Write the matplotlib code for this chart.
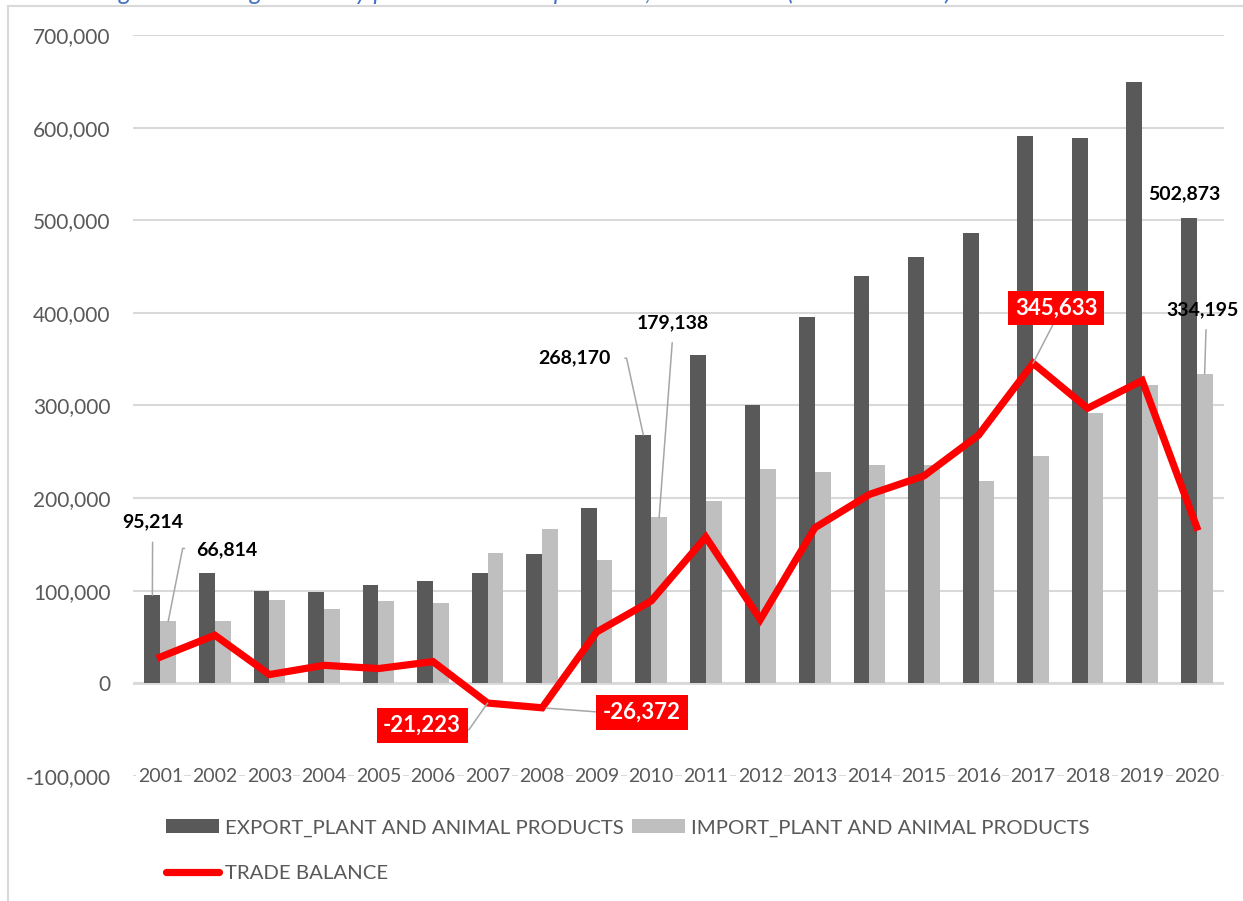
import matplotlib
matplotlib.use("Agg")
import matplotlib.pyplot as plt
from matplotlib.patches import Patch
from matplotlib.lines import Line2D
import numpy as np

plt.rcParams['font.family'] = ['Lato', 'DejaVu Sans']

years = ['2001', '2002', '2003', '2004', '2005', '2006', '2007', '2008', '2009', '2010',
         '2011', '2012', '2013', '2014', '2015', '2016', '2017', '2018', '2019', '2020']
export_vals = [95214, 119000, 99500, 99000, 106000, 110000, 119000, 140000, 189000, 268170,
               355000, 300000, 396000, 440000, 460000, 486000, 591000, 589000, 649000, 502873]
import_vals = [66814, 67000, 90000, 80000, 89000, 87000, 140223, 166372, 133000, 179138,
               197000, 231000, 228000, 236000, 236000, 218000, 245367, 292000, 322000, 334195]
balance_vals = [28400, 52000, 9500, 19500, 16000, 23500, -21223, -26372, 55500, 89032,
                158000, 69000, 168000, 204000, 224000, 268000, 345633, 297000, 327000, 168678]

C_EXP = '#595959'
C_IMP = '#bfbfbf'
C_BAL = '#ff0000'
C_GRID = '#d9d9d9'
C_TXT = '#595959'

W, H = 1243, 901
fig = plt.figure(figsize=(W / 100, H / 100), dpi=100)
ax = fig.add_axes([133 / W, (H - 776) / H, (1224 - 133) / W, (776 - 35) / H])

x = np.arange(len(years))
bw = 0.29
ax.bar(x - bw / 2, export_vals, bw, color=C_EXP, zorder=2)
ax.bar(x + bw / 2, import_vals, bw, color=C_IMP, zorder=2)
ax.plot(x, balance_vals, color=C_BAL, lw=5.2, zorder=4, solid_joinstyle='miter')

ax.set_xlim(-0.5, len(years) - 0.5)
ax.set_ylim(-100000, 700000)
ax.set_yticks(np.arange(-100000, 700001, 100000))
ax.set_yticklabels([f'{v:,.0f}' for v in np.arange(-100000, 700001, 100000)])
ax.tick_params(axis='y', length=0, pad=16, labelsize=15, labelcolor=C_TXT)
ax.set_xticks([])
ax.grid(axis='y', color=C_GRID, lw=1.5, zorder=0)
ax.axhline(0, color=C_GRID, lw=2, zorder=1)
ax.set_axisbelow(True)
for s in ax.spines.values():
    s.set_visible(False)

for i, yr in enumerate(years):
    ax.text(i, -100000, yr, ha='center', va='center', fontsize=14, color=C_TXT,
            bbox=dict(facecolor='white', edgecolor='none', pad=1.0), zorder=5, clip_on=False)

lead = dict(arrowstyle='-', color='#a6a6a6', lw=1.1, shrinkA=2, shrinkB=0)
black_kw = dict(fontsize=14, fontweight='bold', color='black', ha='center', va='center',
                zorder=6, annotation_clip=False)
red_kw = dict(fontsize=16, fontweight='bold', color='white', ha='center', va='center',
              zorder=6, annotation_clip=False,
              bbox=dict(boxstyle='square,pad=0.3', facecolor=C_BAL, edgecolor='none'))

ax.annotate(f'{export_vals[0]:,}', xy=(x[0] - bw / 2, export_vals[0]), xytext=(-0.14, 175000),
            arrowprops=dict(lead, relpos=(0.5, 0), shrinkA=7), **black_kw)
ax.annotate(f'{import_vals[0]:,}', xy=(x[0] + bw / 2, import_vals[0]), xytext=(1.21, 144800),
            arrowprops=dict(lead, relpos=(0, 0.55), shrinkA=6,
                            connectionstyle='arc,angleA=180,armA=13,angleB=90,armB=0'), **black_kw)
ax.annotate(f'{export_vals[9]:,}', xy=(x[9] - bw / 2, export_vals[9]), xytext=(7.60, 352000),
            arrowprops=dict(lead, relpos=(1, 0.45), shrinkA=8,
                            connectionstyle='arc,angleA=0,armA=15.5,angleB=90,armB=0'), **black_kw)
ax.annotate(f'{import_vals[9]:,}', xy=(x[9] + bw / 2, import_vals[9]), xytext=(9.40, 389000),
            arrowprops=dict(lead, relpos=(0.5, 0), shrinkA=6), **black_kw)
ax.annotate(f'{balance_vals[16]:,}', xy=(x[16], balance_vals[16]), xytext=(16.42, 405000),
            arrowprops=dict(lead, relpos=(0.5, 0), shrinkA=0), **red_kw)
ax.annotate(f'{import_vals[19]:,}', xy=(x[19] + bw / 2, import_vals[19]), xytext=(19.11, 403000),
            arrowprops=dict(lead, relpos=(0.55, 0), shrinkA=6), **black_kw)
ax.annotate(f'{export_vals[19]:,}', xy=(x[19] - bw / 2, export_vals[19]), xytext=(18.78, 528300),
            **black_kw)
ax.annotate(f'{balance_vals[6]:,}', xy=(x[6], balance_vals[6]), xytext=(4.80, -45400),
            arrowprops=dict(lead, relpos=(1, 0.3), shrinkA=0,
                            connectionstyle='arc,angleA=0,armA=8,angleB=-90,armB=0'), **red_kw)
ax.annotate(f'{balance_vals[7]:,}', xy=(x[7], balance_vals[7]), xytext=(8.83, -31300),
            arrowprops=dict(lead, relpos=(0, 0.5), shrinkA=0, shrinkB=3), **red_kw)

handles = [Patch(facecolor=C_EXP, edgecolor='none'),
           Line2D([0], [0], color=C_BAL, lw=5.2, solid_capstyle='round'),
           Patch(facecolor=C_IMP, edgecolor='none')]
labels = ['EXPORT_PLANT AND ANIMAL PRODUCTS', 'TRADE BALANCE', 'IMPORT_PLANT AND ANIMAL PRODUCTS']
fig.legend(handles, labels, loc='upper left', bbox_to_anchor=(166 / W, 1 - 819 / H), ncol=2,
           frameon=False, fontsize=14.7, labelcolor=C_TXT, handlelength=2.6, handleheight=0.7,
           handletextpad=0.3, columnspacing=0.4, labelspacing=1.4, borderpad=0, borderaxespad=0)

# frame of the chart box
fig.add_artist(Line2D([8 / W, 8 / W], [0, 1 - 6 / H], transform=fig.transFigure, color=C_GRID, lw=1.5))
fig.add_artist(Line2D([8 / W, 1], [1 - 6 / H, 1 - 6 / H], transform=fig.transFigure, color=C_GRID, lw=1.5))

# caption above (mostly cut off in the reference)
fig.text(100 / W, 1.0, 'Figure 9: Foreign trade by plant and animal products, 2001-2020 (thousand USD)',
         fontsize=18, style='italic', color='#4472c4', ha='left', va='baseline')

fig.savefig('out.png', dpi=100)
